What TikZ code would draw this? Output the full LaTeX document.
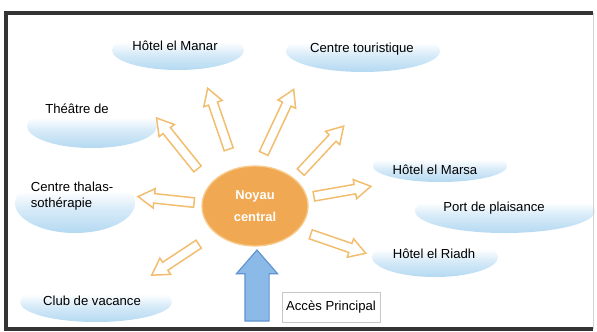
\documentclass[tikz,border=0pt]{standalone}
\usepackage{fontspec}
\setmainfont{Liberation Sans}
\usetikzlibrary{shapes.geometric, shapes.arrows, calc}
\definecolor{corefill}{RGB}{240,168,82}
\definecolor{coreline}{RGB}{247,203,140}
\definecolor{rayline}{RGB}{241,190,112}
\definecolor{cloudblue}{RGB}{182,218,242}
\definecolor{accesblue}{RGB}{140,186,232}
\definecolor{accesline}{RGB}{95,148,210}
\definecolor{framegray}{RGB}{52,52,52}
\pgfdeclareverticalshading{bubbleshade}{100bp}{color(0bp)=(cloudblue); color(26bp)=(cloudblue);
  color(45bp)=(cloudblue!55); color(60bp)=(white); color(100bp)=(white)}

\begin{document}
\begin{tikzpicture}[x=0.3mm, y=-0.3mm,
    every node/.style={font=\fontsize{11.2}{13.4}\selectfont},
    bubble/.style={ellipse, inner sep=0pt, shading=bubbleshade},
    ray/.style={single arrow, draw=rayline, line width=0.45mm, fill=white,
                inner xsep=0pt, inner ysep=1.2mm, minimum width=5.4mm,
                single arrow head extend=1.5mm,
                single arrow tip angle=62, single arrow head indent=0pt},
    entryarr/.style={single arrow, draw=accesline, line width=0.35mm, fill=accesblue,
                inner xsep=0pt, inner ysep=3.45mm, minimum width=12mm,
                single arrow head extend=2.55mm,
                single arrow tip angle=82, single arrow head indent=0pt}]
  \useasboundingbox (0,0) rectangle (597,331);

  % CLOUDS
  \node[bubble, minimum width=39.6mm, minimum height=12mm,
        label={[shift={(-3,-4)}]center:Hôtel el Manar}] (manar) at (178,50) {};
  \node[bubble, minimum width=46.2mm, minimum height=12.6mm,
        label={[shift={(-1,-2)}]center:Centre touristique}] (tour) at (363,51) {};
  \node[bubble, minimum width=39mm, minimum height=13.2mm,
        label={[shift={(-15,-17)}]center:Théâtre de}] (theatre) at (92,126) {};
  \node[bubble, minimum width=36mm, minimum height=18mm,
        label={[shift={(-3,-7)}, align=left]center:Centre thalas-\\sothérapie}] (thalas) at (75,203) {};
  \node[bubble, minimum width=45.6mm, minimum height=12mm,
        label={[shift={(-4,-1)}]center:Club de vacance}] (club) at (96,302) {};
  \node[bubble, minimum width=40.2mm, minimum height=9.6mm,
        label={[shift={(-5,4)}]center:Hôtel el Marsa}] (marsa) at (440,166) {};
  \node[bubble, minimum width=54mm, minimum height=13.2mm,
        label={[shift={(-11,-3)}]center:Port de plaisance}] (port) at (505,211) {};
  \node[bubble, minimum width=37.8mm, minimum height=12mm,
        label={[shift={(-1,-3)}]center:Hôtel el Riadh}] (riadh) at (435,257) {};

  % CORE
  \node[ellipse, fill=corefill, draw=coreline, line width=0.4mm, minimum width=31.8mm,
        minimum height=24mm, text=white, align=center,
        font=\bfseries\fontsize{11}{19}\selectfont] (core) at (255,206) {Noyau\\central};

  % RAYS
  \coordinate (t1) at (200,172); \coordinate (p1) at (159,121);
  \coordinate (t2) at (230,153); \coordinate (p2) at (209,92);
  \coordinate (t3) at (262,157); \coordinate (p3) at (292,93);
  \coordinate (t4) at (298,175); \coordinate (p4) at (341,129);
  \coordinate (t5) at (310,197); \coordinate (p5) at (367,187);
  \coordinate (t6) at (307,233); \coordinate (p6) at (362,252);
  \coordinate (t7) at (198,203); \coordinate (p7) at (142,197);
  \coordinate (t8) at (202,242); \coordinate (p8) at (155,273);
  \foreach \s/\e in {t1/p1, t2/p2, t3/p3, t4/p4, t5/p5, t6/p6, t7/p7, t8/p8}
    \path let \p1 = ($(\e)-(\s)$), \n1 = {atan2(\y1,\x1)}, \n2 = {veclen(\x1,\y1)} in
      node[ray, minimum height=\n2, rotate=\n1] at ($(\s)!0.5!(\e)$) {};

  % ENTRY
  \node[entryarr, minimum height=21.3mm, rotate=90] (entry) at (257,292.5) {};
  \node[draw=gray!45, line width=0.3mm, minimum width=29.4mm, minimum height=9mm] (acces) at (331,307) {Accès Principal};

  % FRAME
  \draw[gray!35, line width=0.3mm] (593,13) -- (593,329);
  \draw[framegray, line width=1.2mm] (593,13) -- (6,13) -- (6,329) -- (593,329);
\end{tikzpicture}
\end{document}
